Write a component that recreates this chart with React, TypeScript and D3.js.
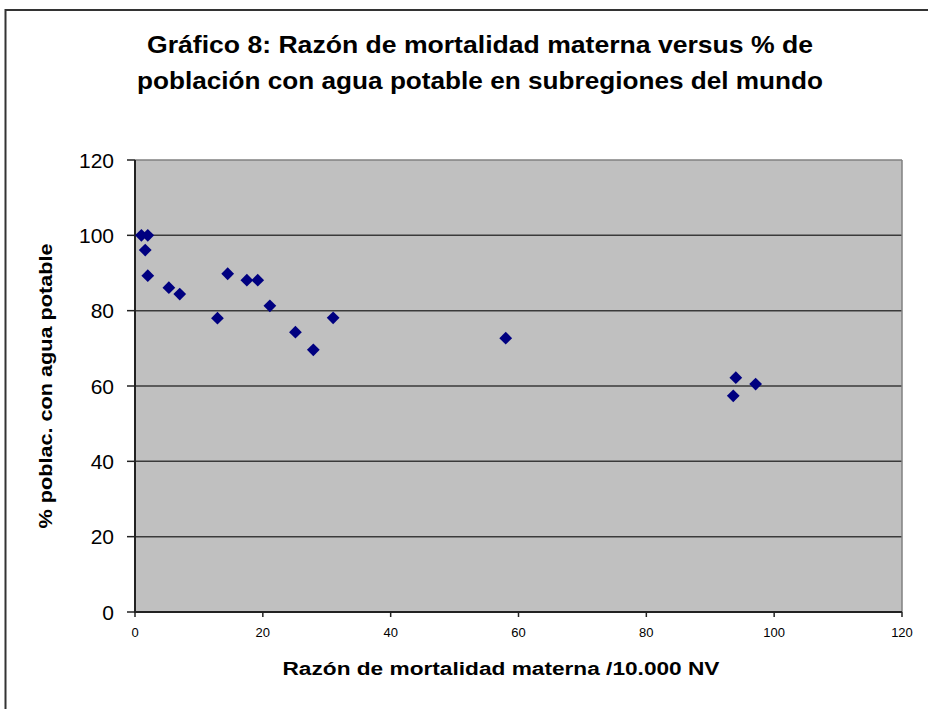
import React, { useEffect } from "react";
import * as d3 from "d3";

const titleLines = [
  "Gráfico 8: Razón de mortalidad materna versus % de",
  "población con agua potable en subregiones del mundo",
];
const titleWidths = [666, 686];
const xTitle = "Razón de mortalidad materna /10.000 NV";
const yTitle = "% poblac. con agua potable";

const mortality = [1.0, 2.0, 1.6, 2.0, 5.3, 7.0, 12.9, 14.5, 17.5, 19.2, 21.1, 25.1, 27.9, 31.0, 58.0, 94.0, 93.6, 97.1];
const water = [100, 100, 96.1, 89.3, 86.1, 84.4, 78.0, 89.8, 88.1, 88.1, 81.3, 74.3, 69.6, 78.1, 72.7, 62.2, 57.4, 60.5];
const xTicks = [0, 20, 40, 60, 80, 100, 120];
const yTicks = [0, 20, 40, 60, 80, 100, 120];

const W = 928;
const H = 709;
const plot = { left: 135, top: 160, right: 902, bottom: 612 };

export default function App() {
  useEffect(() => {
    document.body.style.margin = "0";
  }, []);
  const x = d3.scaleLinear().domain([0, 120]).range([plot.left, plot.right]);
  const y = d3.scaleLinear().domain([0, 120]).range([plot.bottom, plot.top]);
  const diamond = d3.symbol().type(d3.symbolDiamond2).size(104);
  const font = "'Liberation Sans', Arial, sans-serif";
  return (
    <svg width={W} height={H} style={{ display: "block" }} fontFamily={font}>
      <rect x={0} y={0} width={W} height={H} fill="#fff" />
      <path d={`M5.5,${H} V10 H${W}`} fill="none" stroke="#333" strokeWidth={2} />
      {titleLines.map((t, i) => (
        <text key={i} x={480} y={53 + i * 36} textAnchor="middle" fontSize={24} fontWeight="bold" fill="#000"
          textLength={titleWidths[i]} lengthAdjust="spacingAndGlyphs">
          {t}
        </text>
      ))}
      <rect x={plot.left} y={plot.top} width={plot.right - plot.left} height={plot.bottom - plot.top} fill="#c0c0c0" />
      {yTicks.filter((v) => v > 0 && v < 120).map((v) => (
        <line key={v} x1={plot.left} x2={plot.right} y1={y(v)} y2={y(v)} stroke="#3a3a3a" strokeWidth={1.5} />
      ))}
      <line x1={plot.left} x2={plot.right} y1={plot.top} y2={plot.top} stroke="#808080" strokeWidth={1.5} />
      <line x1={plot.right} x2={plot.right} y1={plot.top} y2={plot.bottom} stroke="#808080" strokeWidth={1.5} />
      <line x1={plot.left} x2={plot.left} y1={plot.top} y2={plot.bottom + 1} stroke="#222" strokeWidth={2} />
      <line x1={plot.left - 1} x2={plot.right} y1={plot.bottom} y2={plot.bottom} stroke="#222" strokeWidth={2} />
      {yTicks.map((v) => (
        <g key={v}>
          <line x1={plot.left - 8} x2={plot.left} y1={y(v)} y2={y(v)} stroke="#222" strokeWidth={1.5} />
          <text x={plot.left - 21} y={y(v)} dy="0.36em" textAnchor="end" fontSize={21} fill="#000">
            {v}
          </text>
        </g>
      ))}
      {xTicks.map((v) => (
        <g key={v}>
          <line x1={x(v)} x2={x(v)} y1={plot.bottom} y2={plot.bottom + 5} stroke="#222" strokeWidth={1.5} />
          <text x={x(v)} y={plot.bottom + 25} textAnchor="middle" fontSize={13} fill="#000">
            {v}
          </text>
        </g>
      ))}
      <text x={501} y={675} textAnchor="middle" fontSize={18} fontWeight="bold" fill="#000"
        textLength={437} lengthAdjust="spacingAndGlyphs">
        {xTitle}
      </text>
      <text transform={`translate(52,${(plot.top + plot.bottom) / 2}) rotate(-90)`} textAnchor="middle" fontSize={18} fontWeight="bold" fill="#000"
        textLength={285} lengthAdjust="spacingAndGlyphs">
        {yTitle}
      </text>
      {mortality.map((m, i) => (
        <path key={i} d={diamond()!} transform={`translate(${x(m)},${y(water[i])})`} fill="#000080" />
      ))}
    </svg>
  );
}
